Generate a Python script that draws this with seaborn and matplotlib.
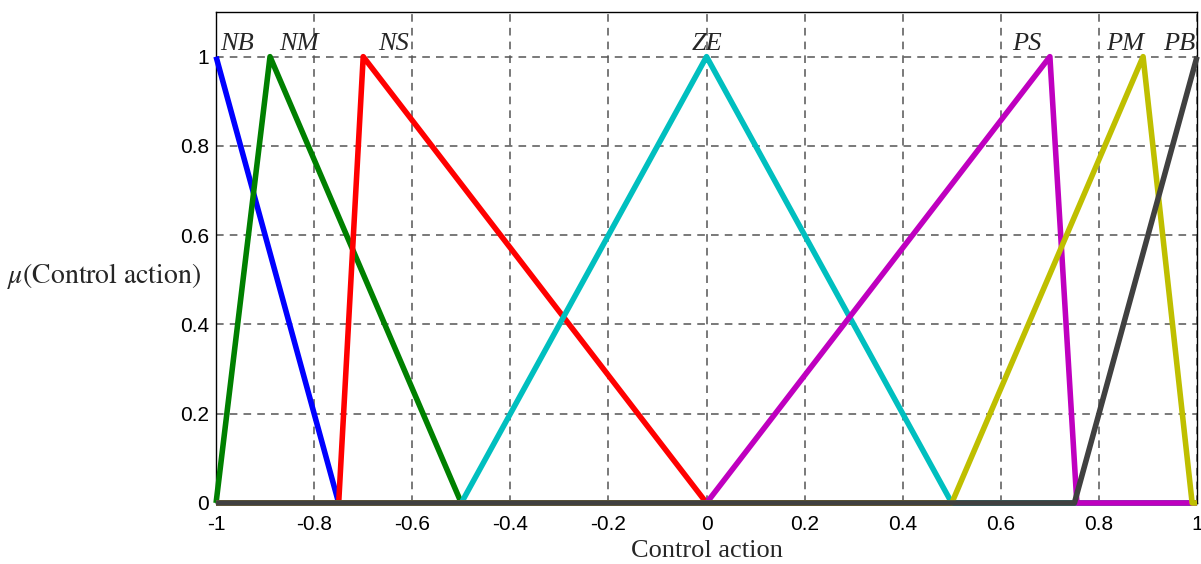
import matplotlib
matplotlib.use("Agg")
import matplotlib.pyplot as plt
import seaborn as sns
import pandas as pd

# Membership function breakpoints over the control-action universe [-1, 1]
mf_names = ["NB", "NM", "NS", "ZE", "PS", "PM", "PB"]
nb_x = [-1.0, -0.75, 1.0]
nb_y = [1.0, 0.0, 0.0]
nm_x = [-1.0, -0.89, -0.5, 1.0]
nm_y = [0.0, 1.0, 0.0, 0.0]
ns_x = [-1.0, -0.75, -0.70, 0.0, 1.0]
ns_y = [0.0, 0.0, 1.0, 0.0, 0.0]
ze_x = [-1.0, -0.5, 0.0, 0.5, 1.0]
ze_y = [0.0, 0.0, 1.0, 0.0, 0.0]
ps_x = [-1.0, 0.0, 0.70, 0.755, 1.0]
ps_y = [0.0, 0.0, 1.0, 0.0, 0.0]
pm_x = [-1.0, 0.5, 0.89, 0.99, 1.0]
pm_y = [0.0, 0.0, 1.0, 0.0, 0.0]
pb_x = [-1.0, 0.75, 1.0]
pb_y = [0.0, 0.0, 1.0]

mf_x = [nb_x, nm_x, ns_x, ze_x, ps_x, pm_x, pb_x]
mf_y = [nb_y, nm_y, ns_y, ze_y, ps_y, pm_y, pb_y]
mf_colors = ["#0000ff", "#008000", "#ff0000", "#00bfbf", "#bf00bf", "#bfbf00", "#404040"]

# Label anchor positions (x centre) for each set name
label_x = [-0.957, -0.831, -0.637, 0.001, 0.654, 0.853, 0.963]

x_ticks = [-1, -0.8, -0.6, -0.4, -0.2, 0, 0.2, 0.4, 0.6, 0.8, 1]
x_tick_labels = ["-1", "-0.8", "-0.6", "-0.4", "-0.2", "0", "0.2", "0.4", "0.6", "0.8", "1"]
y_ticks = [0, 0.2, 0.4, 0.6, 0.8, 1]
y_tick_labels = ["0", "0.2", "0.4", "0.6", "0.8", "1"]

sns.set_style("white")
plt.rcParams["font.family"] = ["Liberation Sans", "DejaVu Sans"]
plt.rcParams["mathtext.fontset"] = "stix"

fig = plt.figure(figsize=(12.01, 5.64), dpi=100)
ax = fig.add_axes([0.1799, 0.1082, 0.9967 - 0.1799, 0.9787 - 0.1082])

for name, xs, ys, c in zip(mf_names, mf_x, mf_y, mf_colors):
    df = pd.DataFrame({"x": xs, "y": ys})
    sns.lineplot(data=df, x="x", y="y", color=c, linewidth=4.0,
                 estimator=None, sort=False, ax=ax, zorder=3,
                 solid_joinstyle="round", solid_capstyle="butt",
                 clip_on=False)

for name, lx in zip(mf_names, label_x):
    ax.text(lx, 1.003, name, ha="center", va="bottom", fontsize=19,
            family="Liberation Serif", style="italic", zorder=4)

ax.set_xlim(-1, 1)
ax.set_ylim(0, 1.1)
ax.set_xticks(x_ticks)
ax.set_xticklabels(x_tick_labels)
ax.set_yticks(y_ticks)
ax.set_yticklabels(y_tick_labels)
ax.tick_params(axis="both", labelsize=15, length=0, colors="black")
ax.tick_params(axis="x", pad=9)
ax.tick_params(axis="y", pad=5)
ax.grid(True, linestyle=(0, (5, 4)), color="#555555", linewidth=1.1)
for s in ax.spines.values():
    s.set_color("black")
    s.set_linewidth(1.0)

ax.set_xlabel("Control action", family="Liberation Serif", fontsize=19, labelpad=4)
ax.set_ylabel("")
fig.text(0.006, 0.51, r"$\mu\left(\mathrm{Control\ action}\right)$",
         fontsize=20, ha="left", va="center")

fig.savefig("out.png", dpi=100)
